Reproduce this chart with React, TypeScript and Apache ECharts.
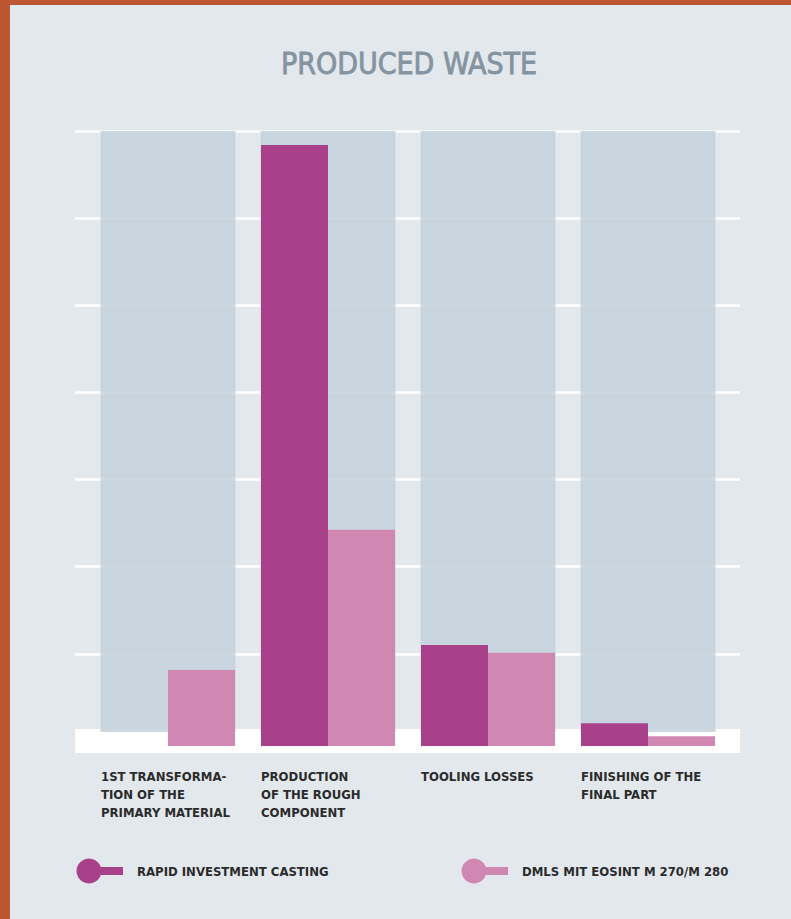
import React, { useEffect, useRef } from "react";
import * as echarts from "echarts";

const categories = [
  "1ST TRANSFORMA-\nTION OF THE\nPRIMARY MATERIAL",
  "PRODUCTION\nOF THE ROUGH\nCOMPONENT",
  "TOOLING LOSSES",
  "FINISHING OF THE\nFINAL PART",
];
const seriesNames = ["RAPID INVESTMENT CASTING", "DMLS MIT EOSINT M 270/M 280"];
const rapidValues = [0, 68.4, 11.5, 2.6];
const dmlsValues = [8.65, 24.6, 10.6, 1.1];
const axisMax = 70;
const axisStep = 10;
const columnBase = [1.6, 1.6, 1.6, 1.6];
const titleText = "PRODUCED WASTE";

const FONT = "'DejaVu Sans Condensed', 'Liberation Sans Narrow', sans-serif";
const DARK = "#a8418a";
const LIGHT = "#d088b3";

export default function App() {
  const ref = useRef<HTMLDivElement>(null);
  useEffect(() => {
    if (!ref.current) return;
    const chart = echarts.init(ref.current, undefined, { renderer: "svg" });
    const hiddenCat = (gridIndex: number) => ({
      type: "category",
      gridIndex,
      data: categories,
      axisLine: { show: false },
      axisTick: { show: false },
      axisLabel: { show: false },
      splitLine: { show: false },
    });
    const hiddenVal = (gridIndex: number, showSplit: boolean) => ({
      type: "value",
      gridIndex,
      min: 0,
      max: axisMax,
      interval: axisStep,
      axisLine: { show: false },
      axisTick: { show: false },
      axisLabel: { show: false },
      splitLine: { show: showSplit, lineStyle: { color: "#ffffff", width: 2.5 } },
    });
    const legendItem = (cx: number, color: string, text: string) => [
      { type: "circle", shape: { cx, cy: 871, r: 12.5 }, style: { fill: color }, z: 10 },
      { type: "rect", shape: { x: cx + 8, y: 867, width: 26, height: 8 }, style: { fill: color }, z: 10 },
      {
        type: "text",
        x: cx + 48,
        y: 871,
        style: {
          text,
          fill: "#2b2b2b",
          font: `bold 13px ${FONT}`,
          textVerticalAlign: "middle",
          textAlign: "left",
        },
        z: 10,
      },
    ];
    chart.setOption({
      animation: false,
      backgroundColor: "#e3e8ed",
      title: {
        text: titleText,
        left: 404,
        top: 43,
        textAlign: "center",
        textStyle: {
          fontFamily: FONT,
          fontSize: 30,
          fontWeight: "normal",
          color: "#8494a0",
          textBorderColor: "#8494a0",
          textBorderWidth: 0.8,
        },
      },
      grid: [
        { left: 75, right: 51, top: 131, bottom: 178 },
        { left: 88, right: 63, top: 131, bottom: 173 },
        { left: 21, right: 130, top: 131, bottom: 173 },
      ],
      xAxis: [
        hiddenCat(0),
        hiddenCat(1),
        hiddenCat(1),
        {
          type: "category",
          gridIndex: 2,
          data: categories,
          axisLine: { show: false },
          axisTick: { show: false },
          splitLine: { show: false },
          axisLabel: {
            show: true,
            interval: 0,
            align: "left",
            margin: 21,
            fontFamily: FONT,
            fontWeight: "bold",
            fontSize: 13,
            lineHeight: 18,
            color: "#2b2b2b",
          },
        },
      ],
      yAxis: [hiddenVal(0, true), hiddenVal(1, false), hiddenVal(2, false)],
      graphic: [
        { type: "rect", shape: { x: 75, y: 729, width: 665, height: 24 }, style: { fill: "#ffffff" }, z: 0 },
        { type: "rect", shape: { x: 0, y: 0, width: 791, height: 5 }, style: { fill: "#bb5532" }, z: 20 },
        { type: "rect", shape: { x: 0, y: 0, width: 10, height: 919 }, style: { fill: "#bb5532" }, z: 20 },
        ...legendItem(89, DARK, seriesNames[0]),
        ...legendItem(474, LIGHT, seriesNames[1]),
      ],
      series: [
        {
          type: "bar",
          xAxisIndex: 2,
          yAxisIndex: 1,
          stack: "column",
          barWidth: 135,
          data: columnBase,
          itemStyle: { color: "rgba(0,0,0,0)" },
          silent: true,
          z: 1,
        },
        {
          type: "bar",
          xAxisIndex: 2,
          yAxisIndex: 1,
          stack: "column",
          barWidth: 135,
          data: columnBase.map((b) => axisMax - b),
          itemStyle: { color: "#c2d0da", opacity: 0.82 },
          silent: true,
          z: 1,
        },
        {
          name: seriesNames[0],
          type: "bar",
          xAxisIndex: 1,
          yAxisIndex: 1,
          barWidth: 67,
          barGap: "0%",
          data: rapidValues,
          itemStyle: { color: DARK },
          z: 3,
        },
        {
          name: seriesNames[1],
          type: "bar",
          xAxisIndex: 1,
          yAxisIndex: 1,
          barWidth: 67,
          barGap: "0%",
          data: dmlsValues,
          itemStyle: { color: LIGHT },
          z: 3,
        },
      ],
    });
    return () => chart.dispose();
  }, []);
  return (
    <div
      ref={ref}
      style={{ position: "absolute", left: 0, top: 0, width: 791, height: 919 }}
    />
  );
}
